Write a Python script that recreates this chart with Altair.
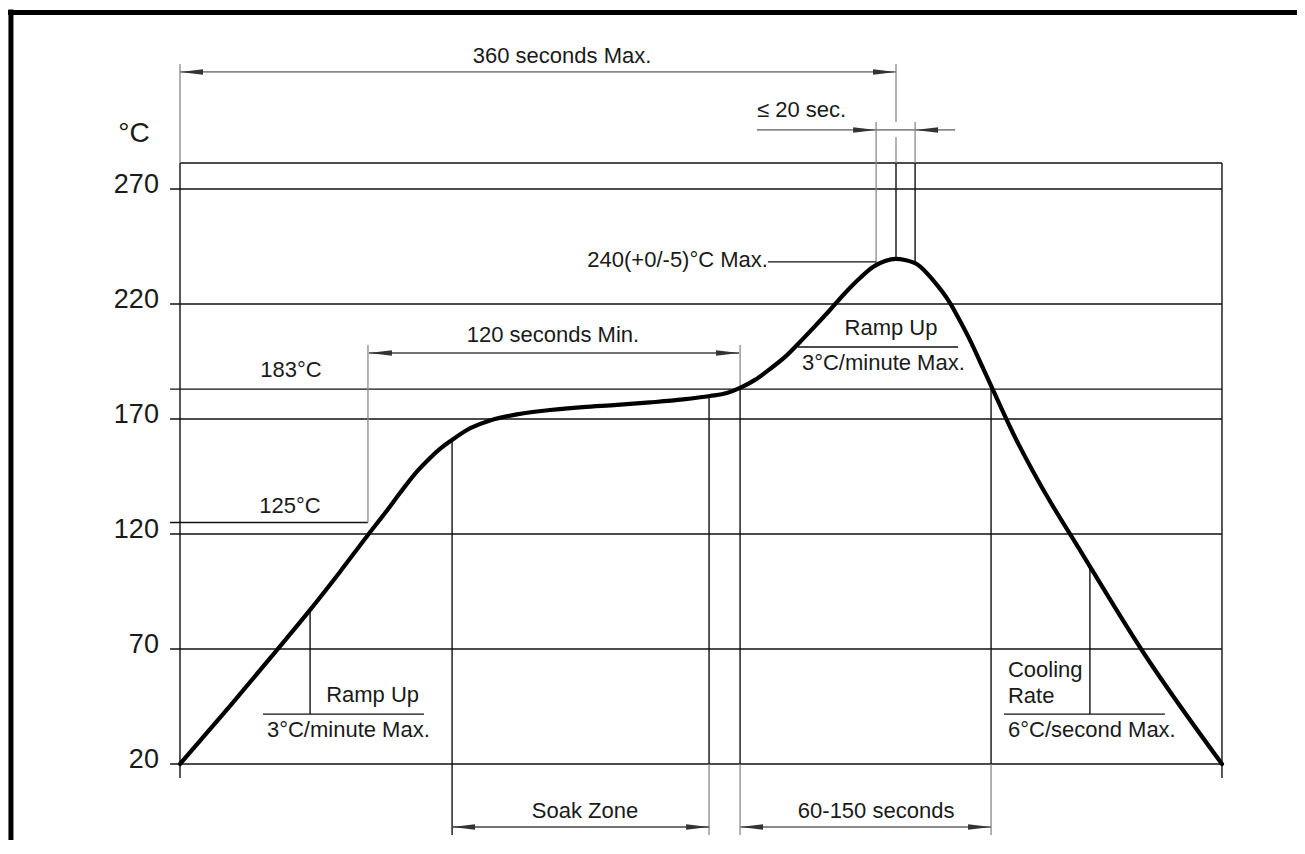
import altair as alt
import pandas as pd

# ---------------- values ----------------
# reflow profile curve: time (s) and temperature (°C)
CURVE_TIME = [0, 25.1, 48.8, 65.4, 80.4, 94.5, 103.1, 110.6, 117.2, 124.2, 130.7,
              136.8, 144.3, 155.9, 169.4, 186.0, 202.6, 219.7, 236.3, 252.9, 266.5,
              275.0, 281.6, 289.1, 296.6, 304.2, 311.7, 319.3, 326.8, 334.4, 341.9,
              348.4, 354.5, 360.0, 364.5, 370.6, 378.6, 387.2, 392.2, 397.2,
              402.2, 408.3, 418.8, 432.4, 452.5, 484.2, 523.9]
CURVE_TEMP = [20, 45.2, 69.6, 87.0, 103.5, 119.6, 129.1, 137.8, 145.2, 151.7, 157.0,
              160.9, 165.2, 169.3, 172.0, 173.9, 175.2, 176.1, 177.2, 178.5, 180.0,
              181.3, 183.5, 187.0, 191.7, 197.0, 203.5, 210.4, 217.4, 224.8, 231.3,
              236.1, 238.7, 239.6, 239.1, 237.3, 230.4, 220.4, 212.6, 204.3,
              195.0, 183.5, 163.9, 141.7, 113.0, 68.7, 20]

TICKS = [20, 70, 120, 170, 220, 270]
GRID_TEMPS = [270, 220, 183, 170, 120, 70, 20]
GRID_LEFT, GRID_RIGHT = -5.0, 523.9
BOX_TOP = 281.3
LINE_125 = (125, 94.5)   # 125°C line ends at this time

# vertical lines: (time, temp from, temp to, kind)
VERTICALS = [
    (0, 324.3, 281.3, "ext"), (0, 281.3, 13.9, "grid"), (523.9, 281.3, 13.9, "grid"),
    (65.4, 87.0, 41.7, "grid"), (94.5, 202.2, 125, "ext"),
    (136.8, 160.9, -10.9, "grid"),
    (266.0, 180.0, 20, "grid"), (266.0, 20, -10.9, "ext"),
    (281.6, 202.2, 183.5, "ext"), (281.6, 183.5, 20, "grid"), (281.6, 20, -10.9, "ext"),
    (407.8, 183.5, 20, "grid"), (407.8, 20, -10.9, "ext"),
    (457.5, 106.0, 41.7, "grid"),
    (350.0, 299.1, 281.3, "ext"), (350.0, 281.3, 236.8, "ext"),
    (360.0, 324.3, 299.1, "ext"), (360.0, 292.6, 281.3, "ext"), (360.0, 281.3, 239.6, "grid"),
    (369.6, 299.1, 281.3, "ext"), (369.6, 281.3, 237.6, "grid"),
]
# dimension lines: (time from, time to, temp, kind)
DIMS = [(0, 360, 320.9, "dim"), (95.0, 281.1, 198.7, "dimdark"),
        (290.1, 389.7, 295.7, "dim"), (136.8, 266.0, -7.4, "dimdark"),
        (281.6, 407.8, -7.4, "dim")]
# arrow heads: (time, temp, direction)
ARROWS = [(0, 320.9, "L"), (360, 320.9, "R"), (95.0, 198.7, "L"), (281.1, 198.7, "R"),
          (350.0, 295.7, "R"), (369.6, 295.7, "L"), (136.8, -7.4, "L"), (266.0, -7.4, "R"),
          (281.6, -7.4, "L"), (407.8, -7.4, "R")]
# leader lines: (time from, time to, temp)
LEADERS = [(295.6, 350.0, 238.3), (41.7, 122.7, 41.7), (310.7, 391.2, 201.3), (414.3, 495.2, 41.7)]
# frame of the figure: (time, temp, time2, temp2)
FRAME = [(-86.5, 346.7, 570.0, 346.7), (-85.0, 348.0, -85.0, -25.0)]

# texts: (label, time, temp)
TEXT_CENTER = [("360 seconds Max.", 192.1, 324.8), ("120 seconds Min.", 187.5, 203.5),
               ("183°C", 55.8, 188.3), ("125°C", 55.3, 129.1), ("Ramp Up", 357.5, 206.5),
               ("Soak Zone", 203.6, -3.5), ("60-150 seconds", 350.0, -3.5)]
TEXT_LEFT = [("≤ 20 sec.", 290.1, 301.3), ("3°C/minute Max.", 43.7, 31.7),
             ("3°C/minute Max.", 312.7, 191.3), ("Cooling", 416.3, 57.8),
             ("Rate", 416.3, 46.5), ("6°C/second Max.", 416.3, 31.7)]
TEXT_RIGHT = [("240(+0/-5)°C Max.", 295.6, 236.1), ("Ramp Up", 120.2, 47.0)]
UNIT = ("°C", -23.1, 290.4)
TICK_LABEL_TIME = -10.6

# ---------------- layout / style ----------------
PAGE = 8
W, H = 1289, 832
X0, KX = 180, 716 / 360      # image px of t=0, px per second
Y20, KY = 764, 2.3           # image px of 20°C, px per °C


def t_at(px):
    return (px - X0) / KX


def c_at(py):
    return 20 + (Y20 - py) / KY


XDOM = [t_at(PAGE), t_at(PAGE + W)]
YDOM = [c_at(PAGE + H), c_at(PAGE)]
STYLE = {"grid": ("#111111", 1.4), "ext": ("#8a8a8a", 1.3), "dim": ("#8a8a8a", 1.8),
         "dimdark": ("#444444", 1.6), "lead": ("#111111", 1.4), "frame": ("#000000", 5)}
FONT = "Liberation Sans"

xs = alt.Scale(domain=XDOM, nice=False, zero=False)
ys = alt.Scale(domain=YDOM, nice=False, zero=False)

# ---------------- build tables ----------------
segs = []


def add(t1, c1, t2, c2, kind):
    col, w = STYLE[kind]
    segs.append({"t": t1, "c": c1, "t2": t2, "c2": c2, "color": col, "w": w})


for f in FRAME:
    add(*f, "frame")
add(0, BOX_TOP, GRID_RIGHT, BOX_TOP, "grid")
for g in GRID_TEMPS:
    add(GRID_LEFT, g, GRID_RIGHT, g, "grid")
add(GRID_LEFT, LINE_125[0], LINE_125[1], LINE_125[0], "grid")
for t, a, b, k in VERTICALS:
    add(t, a, t, b, k)
for a, b, c, k in DIMS:
    add(a, c, b, c, k)
for a, b, c in LEADERS:
    add(a, c, b, c, "lead")
seg_df = pd.DataFrame(segs)

curve_df = pd.DataFrame({"t": CURVE_TIME, "c": CURVE_TEMP})

ARROW_SHAPE = {"R": "M0,0L-2,-0.24L-2,0.24Z", "L": "M0,0L2,-0.24L2,0.24Z"}
arrow_df = pd.DataFrame([{"t": t, "c": c, "shape": ARROW_SHAPE[d]} for t, c, d in ARROWS])


def tdf(rows):
    return pd.DataFrame([{"label": l, "t": t, "c": c} for l, t, c in rows])


def X(f="t:Q"):
    return alt.X(f, scale=xs, axis=None)


def Y(f="c:Q"):
    return alt.Y(f, scale=ys, axis=None)


rules = alt.Chart(seg_df).mark_rule().encode(
    x=X(), x2="t2:Q", y=Y(), y2="c2:Q",
    color=alt.Color("color:N", scale=None),
    strokeWidth=alt.StrokeWidth("w:Q", scale=None),
)

curve = alt.Chart(curve_df).mark_line(
    interpolate="monotone", color="black", strokeWidth=4.2, strokeCap="round"
).encode(x=X(), y=Y())

arrows = alt.Chart(arrow_df).mark_point(
    filled=True, size=529, color="#333333", opacity=1
).encode(x=X(), y=Y(), shape=alt.Shape("shape:N", scale=None))


def text_layer(rows, align, size=22, baseline="alphabetic", dy=0):
    return alt.Chart(tdf(rows)).mark_text(
        align=align, baseline=baseline, font=FONT, fontSize=size, color="#1a1a1a", dy=dy
    ).encode(x=X(), y=Y(), text="label:N")


texts_c = text_layer(TEXT_CENTER, "center")
texts_l = text_layer(TEXT_LEFT, "left")
texts_r = text_layer(TEXT_RIGHT, "right")
unit = text_layer([UNIT], "center", size=28)
ticks = text_layer([(str(v), TICK_LABEL_TIME, v) for v in TICKS], "right", size=27,
                   baseline="middle", dy=-4)

chart = alt.layer(rules, curve, arrows, texts_c, texts_l, texts_r, unit, ticks).properties(
    width=W, height=H, padding=0, autosize=alt.AutoSizeParams(type="none"),
    background="white",
).configure_view(stroke=None)

chart.save("out.html", embed_options={"renderer": "svg", "actions": False})
